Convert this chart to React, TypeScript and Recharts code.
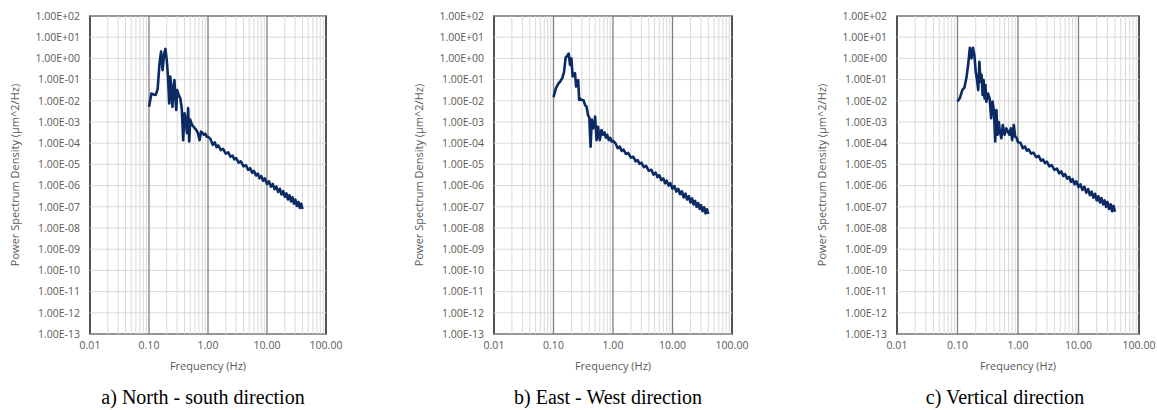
import { LineChart, Line, XAxis, YAxis, ReferenceLine, ReferenceArea } from "recharts"

// frequency bins (Hz), shared by the three directions
const freq = [
    0.10, 0.11, 0.12, 0.13, 0.14, 0.15, 0.16, 0.17, 0.18, 0.19,
    0.20, 0.21, 0.22, 0.23, 0.24, 0.25, 0.26, 0.27, 0.28, 0.29,
    0.30, 0.32, 0.34, 0.36, 0.38, 0.40, 0.42, 0.44, 0.46, 0.48,
    0.50, 0.53, 0.56, 0.60, 0.64, 0.68, 0.72, 0.76, 0.80, 0.85,
    0.90, 0.95, 1.0, 1.1, 1.2, 1.3, 1.4, 1.5, 1.65, 1.8,
    2.0, 2.2, 2.4, 2.6, 2.8, 3.0, 3.3, 3.6, 4.0, 4.4,
    4.8, 5.2, 5.6, 6.0, 6.5, 7.0, 7.5, 8.0, 8.6, 9.2,
    10, 10.8, 11.6, 12.5, 13.4, 14.4, 15.4, 16.5, 17.6, 18.8,
    20, 21.3, 22.6, 24, 25.5, 27, 28.6, 30.2, 32, 34,
    36, 38, 40,
]

// PSD values (µm^2/Hz)
const northSouth = [
    5.2e-3, 2.2e-2, 2.0e-2, 1.9e-2, 3.5e-2, 5.0e-1, 2.1, 2.8e-1, 1.6, 2.8,
    8.3e-1, 1.3e-1, 7.6e-3, 1.4e-1, 2.5e-2, 5.2e-3, 5.0e-2, 9.5e-2, 1.3e-2, 3.7e-3,
    3.2e-2, 1.8e-2, 1.3e-2, 4.0e-3, 1.4e-4, 2.6e-3, 1.0e-3, 3.0e-4, 4.5e-3, 1.2e-4,
    1.3e-3, 7.9e-4, 6.3e-4, 5.0e-4, 4.0e-4, 2.8e-4, 1.4e-4, 3.5e-4, 3.2e-4, 2.5e-4,
    2.8e-4, 2.0e-4, 2.0e-4, 1.6e-4, 8.3e-5, 1.1e-4, 6.5e-5, 7.8e-5, 4.7e-5, 5.4e-5,
    3.2e-5, 3.7e-5, 2.3e-5, 2.6e-5, 1.7e-5, 2.0e-5, 1.2e-5, 1.4e-5, 8.1e-6, 9.1e-6,
    5.5e-6, 6.6e-6, 4.0e-6, 5.0e-6, 3.0e-6, 3.7e-6, 2.2e-6, 2.8e-6, 1.7e-6, 2.2e-6,
    1.2e-6, 1.6e-6, 8.9e-7, 1.2e-6, 6.8e-7, 9.1e-7, 5.0e-7, 7.1e-7, 3.8e-7, 5.5e-7,
    3.0e-7, 4.3e-7, 2.2e-7, 3.5e-7, 1.8e-7, 2.8e-7, 1.4e-7, 2.2e-7, 1.1e-7, 1.7e-7,
    8.9e-8, 1.4e-7, 7.9e-8,
]

const eastWest = [
    1.5e-2, 4.0e-2, 6.3e-2, 8.3e-2, 1.15e-1, 2.2e-1, 1.1, 1.3, 1.7, 4.9e-1,
    1.0, 1.4e-1, 1.8e-1, 2.0e-1, 4.7e-2, 7.9e-2, 9.5e-2, 1.1e-2, 1.3e-2, 1.1e-2,
    1.1e-2, 1.05e-2, 6.3e-3, 5.2e-3, 2.1e-3, 1.6e-3, 6.8e-5, 1.3e-3, 5.0e-4, 6.3e-4,
    1.8e-3, 1.4e-4, 6.0e-4, 1.4e-4, 4.2e-4, 2.5e-4, 3.2e-4, 1.8e-4, 2.5e-4, 1.4e-4,
    1.8e-4, 1.2e-4, 1.3e-4, 1.0e-4, 5.8e-5, 6.9e-5, 4.3e-5, 5.0e-5, 3.1e-5, 3.5e-5,
    2.1e-5, 2.3e-5, 1.4e-5, 1.6e-5, 1.05e-5, 1.2e-5, 7.4e-6, 8.5e-6, 5.0e-6, 5.6e-6,
    3.3e-6, 4.1e-6, 2.5e-6, 3.1e-6, 1.8e-6, 2.2e-6, 1.3e-6, 1.7e-6, 1.0e-6, 1.3e-6,
    7.1e-7, 9.5e-7, 5.2e-7, 7.1e-7, 3.9e-7, 5.4e-7, 2.8e-7, 4.2e-7, 2.2e-7, 3.2e-7,
    1.6e-7, 2.5e-7, 1.3e-7, 1.9e-7, 1.0e-7, 1.5e-7, 7.9e-8, 1.2e-7, 6.2e-8, 9.5e-8,
    4.9e-8, 7.6e-8, 4.6e-8,
]

const vertical = [
    9.1e-3, 1.4e-2, 3.2e-2, 4.2e-2, 1.15e-1, 5.0e-1, 3.2, 1.0, 3.2, 1.45,
    2.3e-1, 1.0e-1, 3.2e-2, 6.9e-1, 7.9e-2, 1.7e-1, 1.9e-2, 9.5e-2, 1.3e-2, 5.6e-2,
    9.1e-3, 2.2e-2, 1.3e-2, 1.5e-3, 9.1e-3, 3.2e-3, 1.2e-4, 3.7e-3, 2.5e-4, 1.0e-3,
    4.0e-4, 1.7e-4, 7.2e-4, 2.5e-4, 5.0e-4, 3.5e-4, 2.5e-4, 5.0e-4, 1.4e-4, 7.2e-4,
    2.0e-4, 1.8e-4, 1.1e-4, 1.05e-4, 5.8e-5, 7.1e-5, 4.4e-5, 5.1e-5, 3.2e-5, 3.6e-5,
    2.2e-5, 2.5e-5, 1.5e-5, 1.7e-5, 1.15e-5, 1.35e-5, 8.1e-6, 9.3e-6, 5.5e-6, 6.3e-6,
    3.8e-6, 4.7e-6, 2.8e-6, 3.5e-6, 2.1e-6, 2.6e-6, 1.5e-6, 2.0e-6, 1.15e-6, 1.6e-6,
    8.5e-7, 1.15e-6, 6.2e-7, 8.9e-7, 4.6e-7, 6.9e-7, 3.5e-7, 5.2e-7, 2.7e-7, 4.1e-7,
    2.0e-7, 3.2e-7, 1.6e-7, 2.6e-7, 1.3e-7, 2.0e-7, 9.8e-8, 1.7e-7, 7.9e-8, 1.3e-7,
    6.2e-8, 1.1e-7, 5.8e-8,
]

const xTicks = [0.01, 0.1, 1, 10, 100]
const yTicks = [1e2, 1e1, 1, 1e-1, 1e-2, 1e-3, 1e-4, 1e-5, 1e-6, 1e-7, 1e-8, 1e-9, 1e-10, 1e-11, 1e-12, 1e-13]
const minorSteps = [2, 3, 4, 5, 6, 7, 8, 9]
const xMinor = [0.01, 0.1, 1, 10].flatMap((d) => minorSteps.map((m) => +(d * m).toPrecision(2)))
const xMajor = [0.1, 1, 10]

const data = freq.map((f, i) => ({ f, ns: northSouth[i], ew: eastWest[i], v: vertical[i] }))

const TEXT = "#595959"
const LINE = "#0c2a63"

const fmtY = (v: number) => {
    const e = Math.round(Math.log10(v))
    return `1.00E${e < 0 ? "-" : "+"}${String(Math.abs(e)).padStart(2, "0")}`
}

const panels = [
    { key: "ns", left: 0, width: 360, caption: "a) North - south direction", capX: 203 },
    { key: "ew", left: 404, width: 362, caption: "b) East - West direction", capX: 608 },
    { key: "v", left: 807, width: 366, caption: "c) Vertical direction", capX: 1005 },
]

function Panel({ dataKey, width }: { dataKey: string; width: number }) {
    return (
        <LineChart width={width} height={380} data={data} margin={{ top: 16, right: 34, left: 0, bottom: 6 }}>
            {xMinor.map((x) => (
                <ReferenceLine key={"m" + x} x={x} stroke="#d9d9d9" strokeWidth={1} />
            ))}
            {yTicks.map((y) => (
                <ReferenceLine key={"h" + y} y={y} stroke="#d9d9d9" strokeWidth={1} />
            ))}
            {xMajor.map((x) => (
                <ReferenceLine key={"M" + x} x={x} stroke="#7f7f7f" strokeWidth={1.3} />
            ))}
            <ReferenceArea x1={0.01} x2={100} y1={1e-13} y2={100} fill="none" stroke="#1a1a1a" strokeWidth={1.5} />
            <XAxis
                dataKey="f"
                type="number"
                scale="log"
                domain={[0.01, 100]}
                ticks={xTicks}
                allowDataOverflow
                axisLine={false}
                tickLine={false}
                height={40}
                tickFormatter={(v: number) => v.toFixed(2)}
                tick={{ fontSize: 10.5, fill: TEXT }}
                label={{ value: "Frequency (Hz)", position: "insideBottom", offset: 4, fill: TEXT, fontSize: 11 }}
            />
            <YAxis
                type="number"
                scale="log"
                domain={[1e-13, 100]}
                ticks={yTicks}
                allowDataOverflow
                axisLine={false}
                tickLine={false}
                width={90}
                tickMargin={4}
                interval={0}
                tickFormatter={fmtY}
                tick={{ fontSize: 10.5, fill: TEXT }}
                label={{
                    value: "Power Spectrum Density (µm^2/Hz)",
                    angle: -90,
                    position: "insideLeft",
                    offset: 15,
                    fill: TEXT,
                    fontSize: 11,
                    style: { textAnchor: "middle" },
                }}
            />
            <Line
                dataKey={dataKey}
                stroke={LINE}
                strokeWidth={2.6}
                dot={false}
                strokeLinejoin="round"
                isAnimationActive={false}
            />
        </LineChart>
    )
}

export default function App() {
    return (
        <div
            style={{
                position: "absolute",
                left: 0,
                top: 0,
                width: 1157,
                height: 410,
                overflow: "hidden",
                background: "#fff",
                fontFamily: "'Open Sans', sans-serif",
            }}
        >
            {panels.map((p) => (
                <div key={p.key} style={{ position: "absolute", left: p.left, top: 0 }}>
                    <Panel dataKey={p.key} width={p.width} />
                </div>
            ))}
            {panels.map((p) => (
                <div
                    key={"c" + p.key}
                    style={{
                        position: "absolute",
                        left: p.capX - 160,
                        width: 320,
                        top: 385,
                        textAlign: "center",
                        fontFamily: "'Liberation Serif', serif",
                        fontSize: 20,
                        lineHeight: "24px",
                        color: "#000",
                    }}
                >
                    {p.caption}
                </div>
            ))}
        </div>
    )
}
